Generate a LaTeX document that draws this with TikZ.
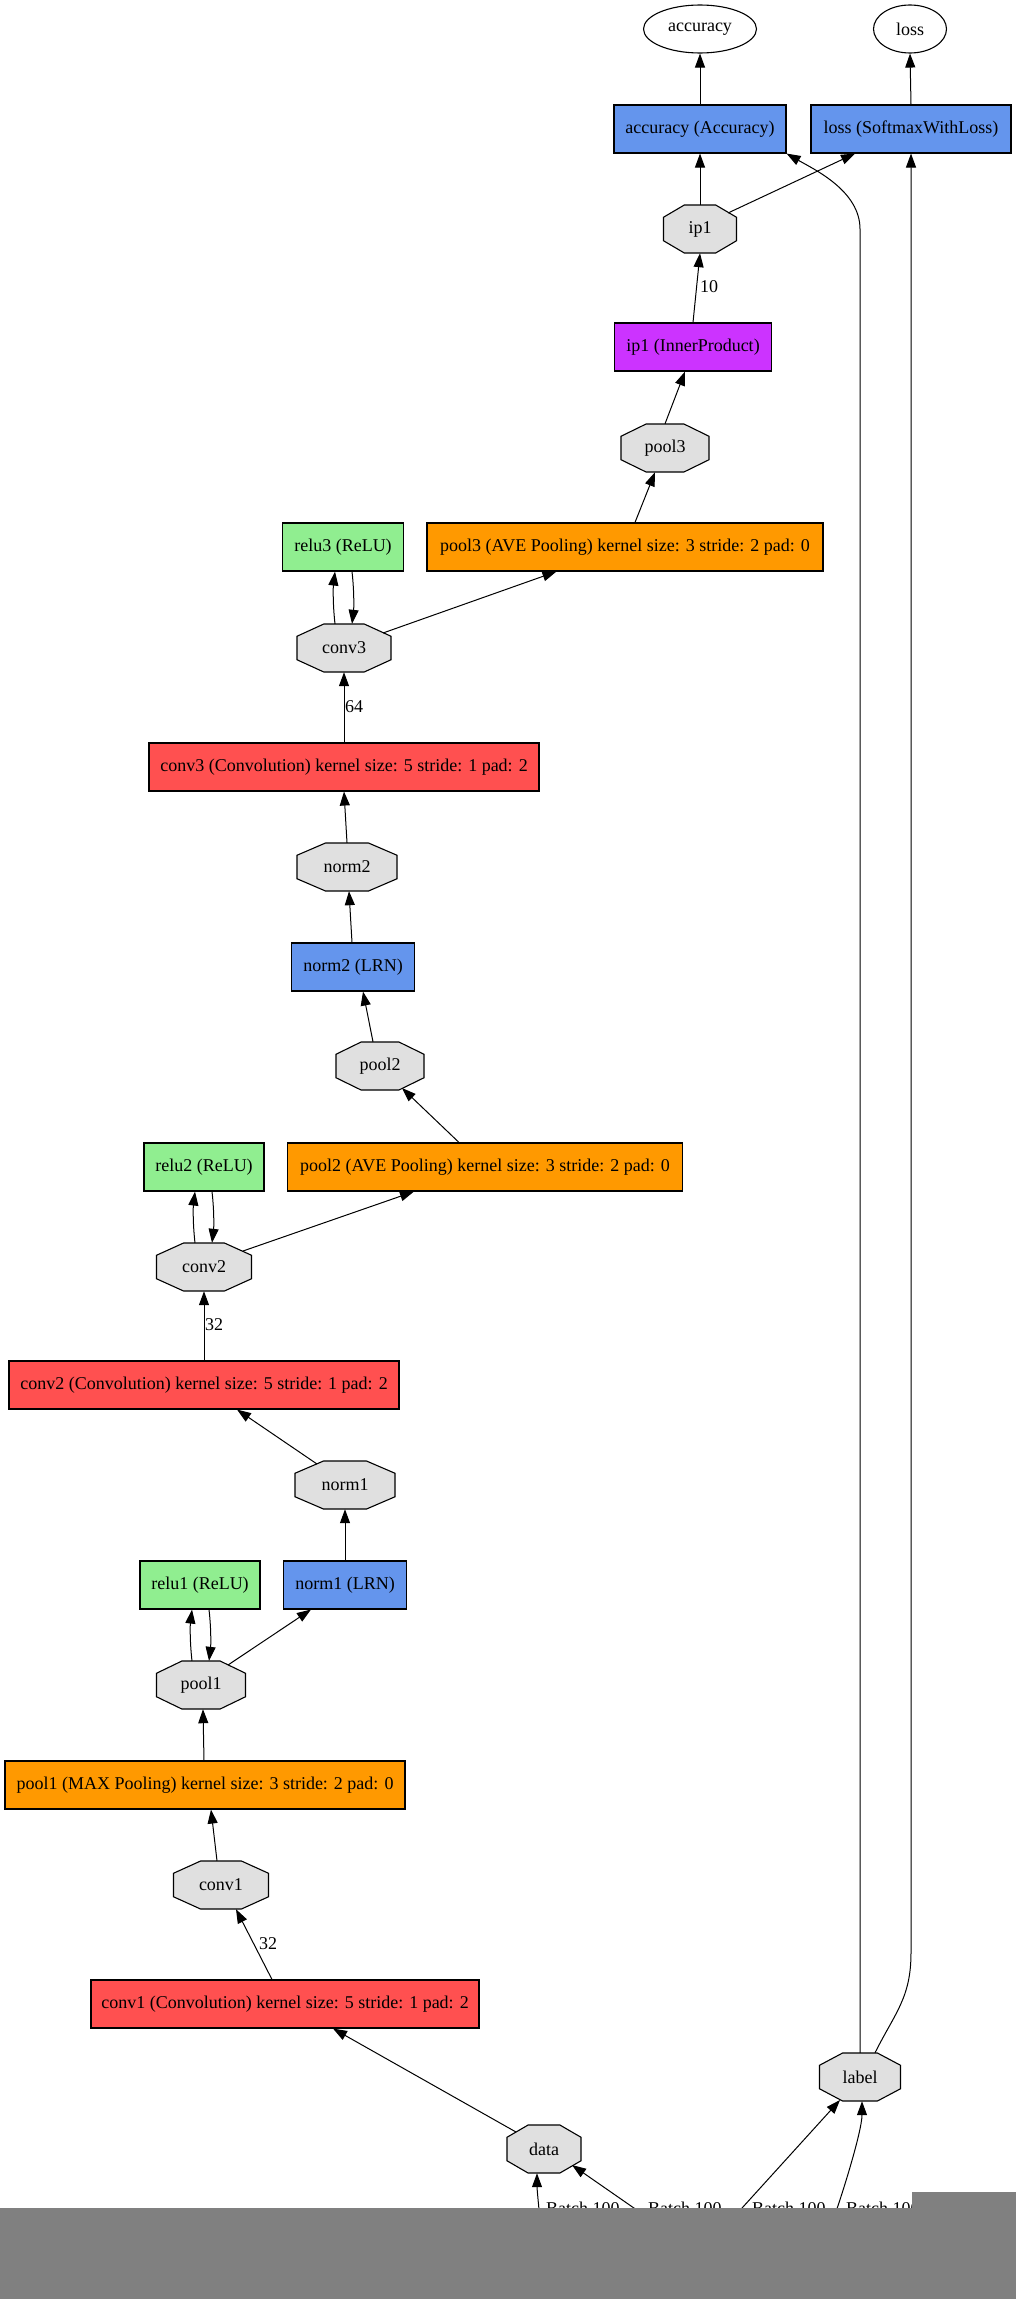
\documentclass[tikz,border=0pt]{standalone}
\usepackage{fontspec}
\setmainfont{Liberation Serif}
\usetikzlibrary{arrows.meta,shapes.geometric,calc}
\pgfdeclarelayer{background}
\pgfsetlayers{background,main}
\definecolor{convred}{HTML}{FF5050}
\definecolor{poolorange}{HTML}{FF9900}
\definecolor{ipviolet}{HTML}{CC33FF}
\definecolor{layerblue}{HTML}{6495ED}
\definecolor{relugreen}{HTML}{90EE90}
\definecolor{blobgray}{HTML}{E0E0E0}
\definecolor{bandgray}{HTML}{808080}
\begin{document}
\begin{tikzpicture}[x=1pt,y=-1pt,
  every node/.style={font=\fontsize{18}{20}\selectfont},
  layerbox/.style={rectangle, draw=black, line width=1.1pt, minimum height=48pt, inner sep=0pt, minimum width=#1},
  blob/.style={rectangle, minimum height=48pt, minimum width=#1, inner sep=0pt},
  outblob/.style={ellipse, draw=black, line width=1.1pt, minimum height=48pt, minimum width=#1, inner sep=0pt},
  conn/.style={draw=black, line width=1pt, -{Triangle[length=14pt,width=10pt]}},
  elabel/.style={anchor=west, inner sep=0pt},
  batchlabel/.style={anchor=base west, inner sep=0pt},
  octo/.style={draw=black, line width=1.1pt, fill=blobgray}
]
\useasboundingbox (0,0) rectangle (1016,2299);
\begin{pgfonlayer}{background}
\fill[white] (0,0) rectangle (1016,2299);
\end{pgfonlayer}

% output blobs
\node[outblob=113pt] (accE) at (700,29) {accuracy};
\node[outblob=73pt] (lossE) at (910,29) {loss};
% layers
\node[layerbox=172pt, fill=layerblue] (accL) at (700,129) {accuracy (Accuracy)};
\node[layerbox=200pt, fill=layerblue] (lossL) at (911,129) {loss (SoftmaxWithLoss)};
\node[blob=73pt] (ip1) at (700,229) {ip1};
\node[layerbox=157pt, fill=ipviolet] (ip1L) at (693,347) {ip1 (InnerProduct)};
\node[blob=88pt] (pool3) at (665,448) {pool3};
\node[layerbox=396pt, fill=poolorange] (pool3L) at (625,547) {pool3 (AVE Pooling) kernel size: 3 stride: 2 pad: 0};
\node[layerbox=121pt, fill=relugreen] (relu3L) at (343,547) {relu3 (ReLU)};
\node[blob=94pt] (conv3) at (344,648) {conv3};
\node[layerbox=390pt, fill=convred] (conv3L) at (344,767) {conv3 (Convolution) kernel size: 5 stride: 1 pad: 2};
\node[blob=100pt] (norm2) at (347,867) {norm2};
\node[layerbox=123pt, fill=layerblue] (norm2L) at (353,967) {norm2 (LRN)};
\node[blob=88pt] (pool2) at (380,1066) {pool2};
\node[layerbox=395pt, fill=poolorange] (pool2L) at (485,1167) {pool2 (AVE Pooling) kernel size: 3 stride: 2 pad: 0};
\node[layerbox=120pt, fill=relugreen] (relu2L) at (204,1167) {relu2 (ReLU)};
\node[blob=95pt] (conv2) at (204,1267) {conv2};
\node[layerbox=390pt, fill=convred] (conv2L) at (204,1385) {conv2 (Convolution) kernel size: 5 stride: 1 pad: 2};
\node[blob=100pt] (norm1) at (345,1485) {norm1};
\node[layerbox=123pt, fill=layerblue] (norm1L) at (345,1585) {norm1 (LRN)};
\node[layerbox=120pt, fill=relugreen] (relu1L) at (200,1585) {relu1 (ReLU)};
\node[blob=89pt] (pool1) at (201,1685) {pool1};
\node[layerbox=400pt, fill=poolorange] (pool1L) at (205,1785) {pool1 (MAX Pooling) kernel size: 3 stride: 2 pad: 0};
\node[blob=95pt] (conv1) at (221,1885) {conv1};
\node[layerbox=388pt, fill=convred] (conv1L) at (285,2004) {conv1 (Convolution) kernel size: 5 stride: 1 pad: 2};
\node[blob=81pt] (lab) at (860,2077) {label};
\node[blob=74pt] (data) at (544,2149) {data};

% octagon outlines of the blobs
\begin{pgfonlayer}{background}
\foreach \n/\w in {ip1/73,pool3/88,conv3/94,norm2/100,pool2/88,conv2/95,norm1/100,pool1/89,conv1/95,lab/81,data/74}{
  \draw[octo] ($(\n)+({-0.215*\w},-24)$) -- ($(\n)+({0.215*\w},-24)$) -- ($(\n)+({0.5*\w},-11.75)$) -- ($(\n)+({0.5*\w},11.75)$) -- ($(\n)+({0.215*\w},24)$) -- ($(\n)+({-0.215*\w},24)$) -- ($(\n)+({-0.5*\w},11.75)$) -- ($(\n)+({-0.5*\w},-11.75)$) -- cycle;
}
\end{pgfonlayer}

% edge labels
\node[elabel] (l10) at (700,287) {10};
\node[elabel] (l64) at (345,707) {64};
\node[elabel] (l32a) at (205,1325) {32};
\node[elabel] (l32b) at (259,1944) {32};

% connectors
\draw[conn] (accL.north) -- (accE.south);
\draw[conn] (lossL.north) -- (lossE.south);
\draw[conn] (ip1.north) -- (accL.south);
\draw[conn] ($(ip1)+(28,-16)$) -- ($(lossL.south)+(-56,0)$);
\draw[conn] (lab.north) -- (lab.north |- ip1) .. controls +(0,-38) and +(28,16) .. (accL.south east);
\draw[conn] ($(lab.north)+(15,0)$) .. controls +(20,-40) and +(0,45) .. ($(lossL.south |- lab.north)+(0,-100)$) -- (lossL.south);
\draw[conn] (ip1L.north) -- (ip1.south);
\draw[conn] (pool3.north) -- ($(ip1L.south)+(-8,0)$);
\draw[conn] ($(pool3L.north)+(10,0)$) -- ($(pool3.south)+(-10,0)$);
\draw[conn] ($(conv3)+(39,-15)$) -- ($(pool3L.south west)+(130,0)$);
\draw[conn] ($(conv3.north)+(-9,0)$) .. controls +(-2,-17) and +(-2,17) .. ($(relu3L.south)+(-8,0)$);
\draw[conn] ($(relu3L.south)+(9,0)$) .. controls +(2,17) and +(2,-17) .. ($(conv3.north)+(8,0)$);
\draw[conn] (conv3L.north) -- (conv3.south);
\draw[conn] (norm2.north) -- (conv3L.south);
\draw[conn] ($(norm2L.north)+(-1,0)$) -- ($(norm2.south)+(2,0)$);
\draw[conn] ($(pool2.north)+(-7,0)$) -- ($(norm2L.south)+(10,0)$);
\draw[conn] ($(pool2L.north)+(-26,0)$) -- ($(pool2)+(22,22)$);
\draw[conn] ($(conv2)+(39,-16)$) -- ($(pool2L.south west)+(127,0)$);
\draw[conn] ($(conv2.north)+(-9,0)$) .. controls +(-2,-17) and +(-2,17) .. ($(relu2L.south)+(-9,0)$);
\draw[conn] ($(relu2L.south)+(8,0)$) .. controls +(2,17) and +(2,-17) .. ($(conv2.north)+(8,0)$);
\draw[conn] (conv2L.north) -- (conv2.south);
\draw[conn] ($(norm1)+(-28,-21)$) -- ($(conv2L.south)+(33,0)$);
\draw[conn] (norm1L.north) -- (norm1.south);
\draw[conn] ($(pool1)+(27,-20)$) -- ($(norm1L.south west)+(28,0)$);
\draw[conn] ($(pool1.north)+(-9,0)$) .. controls +(-2,-17) and +(-2,17) .. ($(relu1L.south)+(-8,0)$);
\draw[conn] ($(relu1L.south)+(9,0)$) .. controls +(2,17) and +(2,-17) .. ($(pool1.north)+(8,0)$);
\draw[conn] ($(pool1L.north)+(-1,0)$) -- ($(pool1.south)+(2,0)$);
\draw[conn] ($(conv1.north)+(-4,0)$) -- ($(pool1L.south)+(6,0)$);
\draw[conn] ($(conv1L.north)+(-13,0)$) -- ($(conv1.south)+(15,0)$);
\draw[conn] ($(data)+(-28,-17)$) -- ($(conv1L.south)+(48,0)$);

% inputs from below (cut by the band)
\coordinate (s1) at (542,2240);
\coordinate (s2) at (680,2240);
\coordinate (s3) at (713,2240);
\coordinate (s4) at (826,2240);
\draw[conn] (s1) .. controls +(-4,-40) and +(0,15) .. ($(data.south)+(-7,0)$);
\draw[conn] (s2) -- ($(data)+(28,16)$);
\draw[conn] (s3) -- ($(lab)+(-20,23)$);
\draw[conn] (s4) .. controls +(15,-40) and +(0,30) .. ($(lab.south)+(2,0)$);

\node[batchlabel] (bt1) at (546,2214) {Batch 100};
\node[batchlabel] (bt2) at (648,2214) {Batch 100};
\node[batchlabel] (bt3) at (752,2214) {Batch 100};
\node[batchlabel] (bt4) at (846,2214) {Batch 100};

% grey band
\fill[bandgray] (0,2208) rectangle (1016,2299);
\fill[bandgray] (912,2192) rectangle (1016,2208);
\end{tikzpicture}
\end{document}
